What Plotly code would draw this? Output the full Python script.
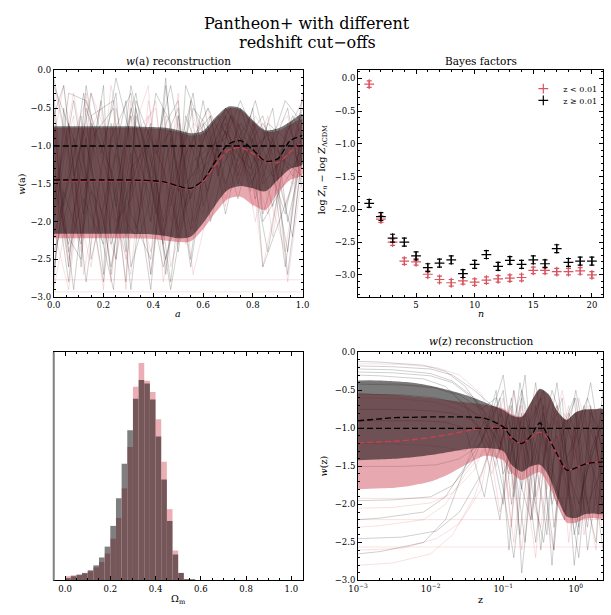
import plotly.graph_objects as go

FONT = "DejaVu Serif"

# ---------------- data ----------------
TITLE_LINE1 = "Pantheon+ with different"
TITLE_LINE2 = "redshift cut−offs"

W_LCDM = -1.0

# w(a) reconstruction: bands and means
A_GRID = [0.0, 0.05, 0.1, 0.15, 0.2, 0.25, 0.3, 0.35, 0.4, 0.45, 0.5,
          0.55, 0.6, 0.65, 0.7, 0.75, 0.8, 0.85, 0.9, 0.95, 1.0]
WA_BLACK_UP = [-0.74, -0.74, -0.74, -0.74, -0.74, -0.74, -0.74, -0.745, -0.75, -0.76, -0.79,
               -0.83, -0.80, -0.62, -0.48, -0.50, -0.66, -0.79, -0.77, -0.68, -0.58]
WA_RED_UP = [-0.76, -0.76, -0.76, -0.76, -0.76, -0.76, -0.76, -0.765, -0.77, -0.78, -0.81,
             -0.86, -0.83, -0.65, -0.50, -0.52, -0.68, -0.81, -0.80, -0.72, -0.65]
WA_BLACK_LO = [-2.16, -2.16, -2.16, -2.16, -2.16, -2.16, -2.16, -2.165, -2.17, -2.19, -2.22,
               -2.20, -2.02, -1.78, -1.58, -1.53, -1.56, -1.60, -1.45, -1.30, -1.24]
WA_RED_LO = [-2.22, -2.22, -2.22, -2.22, -2.22, -2.22, -2.22, -2.225, -2.23, -2.25, -2.27,
             -2.26, -2.10, -1.88, -1.70, -1.67, -1.78, -1.85, -1.62, -1.45, -1.38]
WA_BLACK_MEAN = [-1.45, -1.45, -1.45, -1.45, -1.45, -1.45, -1.45, -1.455, -1.46, -1.48, -1.53,
                 -1.56, -1.45, -1.20, -0.98, -0.93, -1.05, -1.20, -1.17, -0.93, -0.86]
WA_RED_MEAN = [-1.46, -1.46, -1.46, -1.46, -1.46, -1.46, -1.46, -1.465, -1.47, -1.49, -1.54,
               -1.57, -1.47, -1.25, -1.06, -1.02, -1.10, -1.20, -1.22, -1.08, -0.95]

# w(a) posterior samples (read approximately); three knot layouts
A_KNOTS = [
    [0.0, 0.06, 0.13, 0.19, 0.25, 0.31, 0.38, 0.44, 0.5, 0.56, 0.63, 0.69, 0.75, 0.81, 0.88, 0.94, 1.0],
    [0.0, 0.04, 0.11, 0.15, 0.24, 0.29, 0.33, 0.41, 0.47, 0.55, 0.6, 0.66, 0.71, 0.79, 0.86, 0.93, 1.0],
    [0.0, 0.08, 0.12, 0.2, 0.23, 0.31, 0.39, 0.45, 0.5, 0.53, 0.62, 0.69, 0.74, 0.8, 0.84, 0.96, 1.0],
]
WA_BLACK_SAMPLES = [
    [-0.3, -1.8, -0.6, -2.5, -1.2, -0.4, -2.1, -1.0, -0.2, -1.7, -0.9, -0.6, -1.0, -1.3, -0.8, -2.6, -0.9],
    [-2.6, -0.9, -1.9, -0.2, -2.3, -1.5, -0.7, -2.7, -1.4, -0.8, -1.6, -0.5, -0.7, -1.1, -1.5, -1.0, -0.5],
    [-1.4, -2.8, -0.5, -1.1, -0.3, -2.6, -1.8, -0.5, -2.4, -1.2, -1.0, -0.9, -0.4, -0.9, -1.8, -0.7, -1.2],
    [-0.6, -0.2, -2.2, -1.6, -2.9, -0.8, -0.3, -1.9, -0.9, -2.1, -0.7, -1.3, -1.1, -0.6, -1.2, -1.9, -0.8],
    [-2.2, -1.2, -0.3, -2.7, -0.7, -1.9, -2.5, -0.2, -1.6, -0.6, -1.4, -0.8, -1.5, -0.9, -0.7, -1.4, -0.3],
    [-1.0, -2.4, -1.5, -0.4, -1.8, -0.2, -1.3, -2.3, -0.6, -2.0, -0.9, -0.5, -0.8, -1.7, -1.0, -0.5, -1.6],
    [-2.9, -0.5, -2.6, -0.9, -0.5, -2.2, -0.6, -1.4, -2.8, -0.4, -1.8, -1.1, -0.6, -1.2, -2.4, -1.1, -0.7],
    [-0.1, -1.4, -0.8, -2.0, -2.6, -1.1, -2.9, -0.7, -0.4, -1.5, -1.1, -0.7, -1.3, -0.8, -0.6, -2.2, -1.0],
    [-1.7, -0.7, -2.8, -1.3, -0.1, -0.9, -1.6, -2.6, -1.9, -0.9, -0.6, -1.6, -0.5, -1.1, -1.4, -0.8, -0.4],
    [-2.4, -2.0, -1.0, -0.3, -1.5, -2.8, -0.4, -1.1, -0.8, -2.5, -1.3, -0.7, -0.9, -1.4, -0.9, -1.2, -1.4],
    [-0.8, -2.9, -1.7, -2.3, -0.9, -0.3, -2.0, -0.1, -2.2, -1.1, -0.5, -1.0, -1.2, -0.5, -1.9, -0.6, -0.9],
    [-1.9, -0.3, -0.4, -1.0, -2.0, -1.7, -0.9, -2.0, -1.1, -0.3, -2.0, -1.2, -0.7, -1.0, -0.8, -2.7, -1.1],
    [-0.5, -2.1, -2.5, -0.7, -1.4, -2.4, -0.5, -1.7, -2.9, -1.3, -0.4, -1.4, -0.6, -1.5, -1.1, -0.4, -0.7],
    [-2.0, -0.4, -1.2, -2.8, -1.9, -0.6, -2.7, -0.9, -0.5, -1.8, -1.2, -0.6, -1.4, -0.7, -2.0, -1.3, -1.0],
    [-1.2, -2.6, -0.2, -1.4, -2.5, -1.3, -1.0, -2.2, -1.3, -0.5, -0.8, -1.9, -1.0, -0.4, -1.3, -2.4, -0.6],
    [-2.7, -1.6, -2.3, -0.6, -0.4, -2.0, -2.2, -0.3, -0.7, -2.6, -1.5, -0.8, -0.5, -1.6, -0.7, -0.9, -1.3],
    [-0.2, -0.9, -1.4, -1.9, -2.7, -0.5, -1.5, -2.5, -1.7, -0.2, -1.0, -1.1, -1.7, -0.9, -2.6, -1.5, -0.8],
    [-1.5, -2.3, -0.9, -2.2, -1.1, -2.9, -0.8, -1.3, -2.1, -1.4, -0.6, -1.5, -0.9, -1.2, -0.5, -2.0, -1.1],
]
WA_RED_SAMPLES = [
    [-2.7, -1.0, -0.4, -1.9, -2.5, -0.6, -1.3, -2.2, -0.7, -1.4, -1.2, -0.8, -1.1, -1.6, -0.9, -2.8, -1.3],
    [-0.4, -2.2, -1.6, -0.3, -1.1, -2.9, -0.8, -0.5, -2.0, -0.9, -0.7, -1.4, -0.6, -1.2, -1.9, -0.8, -0.6],
    [-1.6, -0.6, -2.7, -1.2, -0.2, -1.4, -2.4, -1.7, -0.3, -2.3, -1.5, -0.6, -1.0, -1.8, -1.1, -1.5, -1.0],
    [-2.1, -2.9, -0.9, -0.5, -2.2, -0.9, -0.2, -2.8, -1.5, -0.7, -0.9, -1.1, -1.4, -0.7, -2.2, -0.9, -0.5],
    [-0.9, -0.2, -2.0, -2.6, -0.7, -2.0, -1.1, -0.4, -2.6, -1.6, -1.9, -0.9, -0.8, -1.3, -0.6, -1.8, -1.2],
    [-2.9, -1.5, -0.7, -1.4, -2.8, -0.4, -2.7, -1.2, -0.6, -1.1, -0.8, -1.7, -1.2, -0.9, -1.4, -1.1, -0.8],
    [-1.2, -2.5, -1.3, -2.1, -0.5, -1.6, -0.6, -2.1, -1.2, -2.1, -1.3, -0.7, -0.9, -2.0, -0.8, -0.6, -1.5],
    [-0.2, -0.8, -2.4, -0.8, -1.6, -2.5, -1.9, -0.9, -1.8, -0.5, -1.0, -1.3, -1.6, -1.0, -1.6, -2.4, -0.9],
    [-1.8, -0.3, -1.1, -2.9, -0.9, -1.2, -2.0, -0.6, -2.3, -1.2, -0.5, -1.8, -0.7, -1.4, -2.6, -0.7, -1.1],
    [-0.7, -2.6, -0.3, -1.7, -2.0, -2.7, -0.4, -1.5, -1.0, -2.7, -1.7, -1.0, -1.5, -0.6, -1.0, -1.3, -0.4],
    [-2.77] * 17,
    [-2.93] * 17,
]

# Bayes factors
N_VALUES = [1, 2, 3, 4, 5, 6, 7, 8, 9, 10, 11, 12, 13, 14, 15, 16, 17, 18, 19, 20]
BF_LOW = [-0.09, -2.15, -2.50, -2.79, -2.80, -2.99, -3.07, -3.12, -3.09, -3.11,
          -3.08, -3.06, -3.05, -3.04, -2.93, -2.93, -2.95, -2.95, -2.94, -3.00]
BF_LOW_ERR = [0.05, 0.05, 0.05, 0.05, 0.05, 0.05, 0.05, 0.05, 0.05, 0.05,
              0.05, 0.05, 0.05, 0.05, 0.05, 0.05, 0.05, 0.05, 0.05, 0.05]
BF_HIGH = [-1.91, -2.11, -2.44, -2.50, -2.71, -2.89, -2.82, -2.77, -2.98, -2.84,
           -2.69, -2.87, -2.78, -2.84, -2.77, -2.83, -2.60, -2.81, -2.79, -2.79]
BF_HIGH_ERR = [0.06, 0.06, 0.06, 0.06, 0.06, 0.06, 0.06, 0.06, 0.06, 0.06,
               0.06, 0.06, 0.06, 0.06, 0.06, 0.06, 0.06, 0.06, 0.06, 0.06]
LABEL_LOW = "z &lt; 0.01"
LABEL_HIGH = "z ≥ 0.01"

# Omega_m histogram (bin centres, width 0.025)
OM_BINS = [0.0125, 0.0375, 0.0625, 0.0875, 0.1125, 0.1375, 0.1625, 0.1875, 0.2125, 0.2375,
           0.2625, 0.2875, 0.3125, 0.3375, 0.3625, 0.3875, 0.4125, 0.4375, 0.4625, 0.4875,
           0.5125, 0.5375, 0.5625]
OM_BIN_WIDTH = 0.025
OM_RED = [13, 16, 16, 21, 28, 40, 56, 82, 127, 190, 280, 406, 589, 661, 607, 573, 490, 361,
          217, 91, 23, 4, 1]
OM_BLACK = [7, 13, 18, 23, 31, 46, 70, 103, 166, 250, 355, 457, 553, 610, 599, 550, 438, 307,
            181, 79, 23, 4, 1]

# w(z) reconstruction: bands and means
Z_GRID = [0.001, 0.0018, 0.0032, 0.0056, 0.01, 0.018, 0.032, 0.056, 0.1, 0.13,
          0.18, 0.24, 0.32, 0.42, 0.56, 0.75, 1.0, 1.33, 1.78, 2.37]
WZ_BLACK_UP = [-0.37, -0.37, -0.38, -0.40, -0.44, -0.50, -0.57, -0.66, -0.76, -0.83,
               -0.85, -0.66, -0.48, -0.55, -0.78, -0.89, -0.79, -0.75, -0.75, -0.75]
WZ_RED_UP = [-0.54, -0.55, -0.56, -0.58, -0.60, -0.63, -0.66, -0.69, -0.74, -0.81,
             -0.84, -0.66, -0.49, -0.56, -0.78, -0.89, -0.79, -0.76, -0.75, -0.75]
WZ_BLACK_LO = [-1.42, -1.41, -1.40, -1.38, -1.35, -1.31, -1.27, -1.26, -1.30, -1.48,
               -1.57, -1.50, -1.48, -1.62, -1.92, -2.16, -2.18, -2.13, -2.12, -2.12]
WZ_RED_LO = [-1.80, -1.79, -1.78, -1.75, -1.70, -1.60, -1.47, -1.36, -1.42, -1.58,
             -1.68, -1.62, -1.58, -1.74, -2.00, -2.24, -2.24, -2.19, -2.18, -2.18]
WZ_BLACK_MEAN = [-0.90, -0.88, -0.86, -0.855, -0.85, -0.85, -0.85, -0.87, -0.98, -1.12,
                 -1.20, -1.10, -0.93, -1.12, -1.35, -1.55, -1.52, -1.47, -1.45, -1.44]
WZ_RED_MEAN = [-1.19, -1.18, -1.17, -1.15, -1.12, -1.08, -1.03, -1.00, -1.00, -1.13,
               -1.20, -1.12, -1.05, -1.14, -1.35, -1.55, -1.52, -1.47, -1.45, -1.44]

# w(z) posterior samples (read approximately); three knot layouts
Z_KNOTS = [
    [0.001, 0.003, 0.01, 0.02, 0.04, 0.07, 0.1, 0.14, 0.2, 0.28, 0.4, 0.55, 0.8, 1.1, 1.6, 2.37],
    [0.001, 0.004, 0.012, 0.025, 0.05, 0.08, 0.12, 0.17, 0.24, 0.33, 0.47, 0.65, 0.95, 1.3, 1.9, 2.37],
    [0.001, 0.002, 0.008, 0.016, 0.03, 0.055, 0.09, 0.13, 0.18, 0.25, 0.36, 0.5, 0.7, 1.0, 1.45, 2.37],
]
WZ_BLACK_SAMPLES = [
    [-0.12, -0.13, -0.17, -0.25, -0.45, -0.8, -1.3, -0.6, -1.8, -0.9, -0.5, -1.7, -2.1, -0.8, -2.6, -1.2],
    [-0.22, -0.23, -0.28, -0.38, -0.6, -0.9, -0.5, -1.9, -0.8, -1.4, -2.4, -0.9, -1.5, -2.3, -0.7, -1.8],
    [-2.45, -2.43, -2.35, -2.1, -1.6, -1.0, -1.6, -0.4, -1.2, -2.6, -1.0, -0.6, -2.8, -1.6, -1.1, -2.2],
    [-0.3, -0.31, -0.35, -0.45, -0.7, -1.2, -2.2, -1.0, -0.5, -1.1, -1.6, -2.6, -0.9, -1.3, -2.3, -0.5],
    [-1.95, -1.94, -1.9, -1.75, -1.4, -0.8, -0.3, -1.4, -2.5, -0.7, -1.3, -1.1, -1.9, -2.7, -1.0, -1.6],
    [-0.55, -0.56, -0.6, -0.68, -0.85, -1.4, -0.9, -2.4, -1.1, -0.6, -2.0, -1.5, -1.2, -0.7, -1.9, -2.6],
    [-2.65, -2.62, -2.5, -2.2, -1.5, -0.9, -1.2, -0.7, -2.9, -1.6, -0.8, -1.9, -2.2, -1.0, -0.6, -1.3],
    [-0.18, -0.19, -0.22, -0.3, -0.5, -0.7, -1.6, -1.2, -0.3, -1.9, -1.2, -0.4, -1.6, -2.0, -1.4, -0.9],
    [-1.5, -1.5, -1.48, -1.4, -1.2, -0.5, -2.6, -0.9, -1.5, -0.9, -2.8, -1.0, -0.6, -1.8, -2.5, -1.1],
    [-0.9, -0.9, -0.9, -0.92, -1.0, -1.9, -0.8, -1.6, -0.6, -2.2, -0.7, -2.3, -1.3, -0.5, -1.3, -2.0],
    [-0.26, -0.27, -0.31, -0.4, -0.62, -1.1, -1.8, -2.7, -1.3, -0.4, -1.5, -2.0, -0.8, -1.2, -0.4, -1.4],
    [-0.42, -0.43, -0.47, -0.56, -0.75, -0.6, -1.1, -1.7, -2.2, -1.2, -0.5, -0.9, -2.4, -1.7, -1.2, -0.7],
    [-2.2, -2.18, -2.1, -1.9, -1.5, -1.1, -0.6, -2.0, -0.8, -1.8, -2.5, -1.4, -1.0, -0.6, -2.0, -1.5],
    [-0.75, -0.75, -0.77, -0.8, -0.9, -1.3, -2.0, -0.5, -1.4, -2.5, -1.1, -0.7, -1.8, -2.4, -0.8, -1.1],
]
WZ_RED_SAMPLES = [
    [-2.8, -2.77, -2.65, -2.4, -1.9, -1.2, -0.6, -1.8, -1.0, -2.0, -1.2, -0.7, -2.5, -1.4, -0.9, -1.7],
    [-0.15, -0.16, -0.2, -0.3, -0.55, -1.0, -1.5, -0.7, -2.2, -1.0, -0.6, -1.6, -1.1, -2.4, -1.5, -0.8],
    [-2.3, -2.28, -2.2, -2.0, -1.6, -1.3, -0.9, -2.3, -0.7, -1.3, -2.0, -2.6, -0.8, -1.2, -2.1, -1.9],
    [-0.4, -0.41, -0.45, -0.55, -0.8, -1.6, -1.1, -0.5, -1.7, -2.7, -0.9, -1.3, -1.9, -0.6, -1.2, -2.4],
    [-2.6, -2.58, -2.45, -2.25, -1.8, -0.7, -1.9, -1.2, -0.9, -0.6, -1.5, -2.0, -1.0, -1.7, -2.6, -1.1],
    [-1.2, -1.2, -1.22, -1.25, -1.3, -0.8, -2.1, -1.5, -2.6, -1.4, -0.7, -0.9, -2.2, -1.1, -0.7, -1.5],
    [-2.05, -2.04, -1.98, -1.85, -1.55, -1.0, -1.4, -2.5, -1.1, -0.7, -1.8, -1.2, -0.7, -2.0, -1.3, -0.9],
    [-0.6, -0.61, -0.66, -0.76, -1.0, -1.5, -0.7, -1.1, -1.9, -2.3, -1.0, -0.5, -1.4, -0.9, -2.2, -1.6],
    [-1.92] * 16,
    [-2.2] * 16,
    [-2.56] * 16,
]

# ---------------- styles ----------------
RED = "rgb(205,62,78)"
RED_FILL = "rgba(205,62,78,0.45)"
BLACK_FILL = "rgba(0,0,0,0.52)"
RED_SAMPLE = "rgba(215,70,85,0.17)"
BLACK_SAMPLE = "rgba(0,0,0,0.19)"
BF_RED = "#d9545f"
DASH = "6px,3px"

W, H = 611, 615


def px_x(p):
    return p / W


def px_y(p):
    return 1 - p / H


fig = go.Figure()


def band(x, up, lo, color, xa, ya):
    fig.add_trace(go.Scatter(
        x=list(x) + list(x)[::-1], y=list(up) + list(lo)[::-1],
        fill="toself", fillcolor=color, line=dict(width=0, shape="spline", smoothing=0.8),
        mode="lines", hoverinfo="skip", showlegend=False, xaxis=xa, yaxis=ya))


def line(x, y, color, width, xa, ya, dash=None, shape="linear"):
    fig.add_trace(go.Scatter(
        x=x, y=y, mode="lines",
        line=dict(color=color, width=width, dash=dash, shape=shape, smoothing=0.8),
        hoverinfo="skip", showlegend=False, xaxis=xa, yaxis=ya))


# ---- panel 1: w(a) ----
for i, s in enumerate(WA_RED_SAMPLES):
    line(A_KNOTS[i % 3], s, RED_SAMPLE, 1, "x", "y")
for i, s in enumerate(WA_BLACK_SAMPLES):
    line(A_KNOTS[(i + 1) % 3], s, BLACK_SAMPLE, 1, "x", "y")
band(A_GRID, WA_RED_UP, WA_RED_LO, RED_FILL, "x", "y")
band(A_GRID, WA_BLACK_UP, WA_BLACK_LO, BLACK_FILL, "x", "y")
line(A_GRID, WA_RED_MEAN, RED, 1.3, "x", "y", dash=DASH, shape="spline")
line(A_GRID, WA_BLACK_MEAN, "black", 1.3, "x", "y", dash=DASH, shape="spline")

# ---- panel 2: Bayes factors ----
fig.add_trace(go.Scatter(
    x=N_VALUES, y=BF_LOW, mode="markers", name=LABEL_LOW, legend="legend",
    marker=dict(symbol="cross-thin", size=7, line=dict(color=BF_RED, width=1.2), color=BF_RED),
    error_y=dict(type="data", array=BF_LOW_ERR, color=BF_RED, thickness=1.2, width=2.5),
    xaxis="x2", yaxis="y2"))
fig.add_trace(go.Scatter(
    x=N_VALUES, y=BF_HIGH, mode="markers", name=LABEL_HIGH, legend="legend2",
    marker=dict(symbol="cross-thin", size=7, line=dict(color="black", width=1.2), color="black"),
    error_y=dict(type="data", array=BF_HIGH_ERR, color="black", thickness=1.2, width=2.5),
    xaxis="x2", yaxis="y2"))

# ---- panel 3: Omega_m histogram ----
fig.add_trace(go.Bar(x=OM_BINS, y=OM_RED, width=OM_BIN_WIDTH, marker=dict(color=RED, line=dict(width=0)),
                     opacity=0.42, showlegend=False, hoverinfo="skip", xaxis="x3", yaxis="y3"))
fig.add_trace(go.Bar(x=OM_BINS, y=OM_BLACK, width=OM_BIN_WIDTH, marker=dict(color="black", line=dict(width=0)),
                     opacity=0.5, showlegend=False, hoverinfo="skip", xaxis="x3", yaxis="y3"))

# ---- panel 4: w(z) ----
for i, s in enumerate(WZ_RED_SAMPLES):
    line(Z_KNOTS[i % 3], s, RED_SAMPLE, 1, "x4", "y4")
for i, s in enumerate(WZ_BLACK_SAMPLES):
    line(Z_KNOTS[(i + 2) % 3], s, BLACK_SAMPLE, 1, "x4", "y4")
band(Z_GRID, WZ_RED_UP, WZ_RED_LO, RED_FILL, "x4", "y4")
band(Z_GRID, WZ_BLACK_UP, WZ_BLACK_LO, BLACK_FILL, "x4", "y4")
line(Z_GRID, WZ_RED_MEAN, RED, 1.3, "x4", "y4", dash=DASH, shape="spline")
line(Z_GRID, WZ_BLACK_MEAN, "black", 1.3, "x4", "y4", dash=DASH, shape="spline")

# reference lines w = -1
fig.add_shape(type="line", xref="x domain", yref="y", x0=0, x1=1, y0=W_LCDM, y1=W_LCDM,
              line=dict(color="black", width=1.4, dash=DASH))
fig.add_shape(type="line", xref="x4 domain", yref="y4", x0=0, x1=1, y0=W_LCDM, y1=W_LCDM,
              line=dict(color="black", width=1.4, dash=DASH))
# grey left spine of histogram
fig.add_shape(type="line", xref="x3 domain", yref="y3 domain", x0=0, x1=0, y0=0, y1=1,
              line=dict(color="#808080", width=2))

TICKFONT = dict(family=FONT, size=8.5, color="black")
LABELFONT = dict(family=FONT, size=9.5, color="black")


def axis(domain, **kw):
    d = dict(domain=domain, showline=True, linecolor="black", linewidth=1, mirror="allticks",
             ticks="inside", ticklen=4, tickwidth=0.8, tickcolor="black", showgrid=False,
             zeroline=False, tickfont=TICKFONT, layer="above traces")
    d.update(kw)
    return d


def minor(dt):
    return dict(ticks="inside", ticklen=2, tickwidth=0.8, tickcolor="black", dtick=dt, showgrid=False)


XL = [px_x(45), px_x(301)]
XR = [px_x(358), px_x(610)]
YT = [px_y(297), px_y(66.5)]
YB = [px_y(585), px_y(353)]

LOG_MINOR = [m * 10.0 ** e for e in range(-3, 1) for m in range(2, 10)]
LEG = dict(xanchor="left", yanchor="middle", bgcolor="rgba(0,0,0,0)",
           font=dict(family=FONT, size=8, color="black"), itemwidth=30, tracegroupgap=0)

fig.update_layout(
    width=W, height=H, margin=dict(l=0, r=0, t=0, b=0),
    paper_bgcolor="white", plot_bgcolor="white", barmode="overlay",
    font=dict(family=FONT, color="black"),
    xaxis=axis(XL, anchor="y", range=[0, 1], dtick=0.2, tick0=0, tickformat=".1f", minor=minor(0.05)),
    yaxis=axis(YT, anchor="x", range=[-3, 0], dtick=0.5, tick0=0, tickformat=".1f", minor=minor(0.1)),
    xaxis2=axis(XR, anchor="y2", range=[0.05, 20.95], dtick=5, tick0=0, minor=minor(1)),
    yaxis2=axis(YT, anchor="x2", range=[-3.34, 0.12], dtick=0.5, tick0=0, tickformat=".1f", minor=minor(0.1)),
    xaxis3=axis(XL, anchor="y3", range=[-0.05, 1.05], dtick=0.2, tick0=0, tickformat=".1f", minor=minor(0.05)),
    yaxis3=axis(YB, anchor="x3", range=[0, 694], ticks="", showticklabels=False),
    xaxis4=axis(XR, anchor="y4", type="log", range=[-3, 0.375],
                tickvals=[0.001, 0.01, 0.1, 1],
                ticktext=["10<sup>−3</sup>", "10<sup>−2</sup>", "10<sup>−1</sup>", "10<sup>0</sup>"],
                minor=dict(ticks="inside", ticklen=2, tickwidth=0.8, tickcolor="black",
                           tickvals=LOG_MINOR, showgrid=False)),
    yaxis4=axis(YB, anchor="x4", range=[-3, 0], dtick=0.5, tick0=0, tickformat=".1f", minor=minor(0.1)),
    legend=dict(x=px_x(528), y=px_y(85), **LEG),
    legend2=dict(x=px_x(528), y=px_y(97), **LEG),
)

TITLE_FONT = dict(family=FONT, size=16, color="black")
SUB_FONT = dict(family=FONT, size=10.5, color="black")
ann = [
    dict(text=TITLE_LINE1, x=0.5, y=px_y(19), font=TITLE_FONT),
    dict(text=TITLE_LINE2, x=0.5, y=px_y(38), font=TITLE_FONT),
    dict(text="<i>w</i>(a) reconstruction", x=px_x(173), y=px_y(57), font=SUB_FONT),
    dict(text="Bayes factors", x=px_x(484), y=px_y(57), font=SUB_FONT),
    dict(text="<i>w</i>(z) reconstruction", x=px_x(484), y=px_y(342), font=SUB_FONT),
    # axis labels
    dict(text="<i>a</i>", x=px_x(173), y=px_y(314), font=LABELFONT),
    dict(text="<i>n</i>", x=px_x(484), y=px_y(314), font=LABELFONT),
    dict(text="Ω<sub>m</sub>", x=px_x(173), y=px_y(604), font=LABELFONT),
    dict(text="z", x=px_x(484), y=px_y(604), font=LABELFONT),
    dict(text="<i>w</i>(a)", x=px_x(11), y=px_y(182), font=LABELFONT, textangle=-90),
    dict(text="log <i>Z</i><sub><i>n</i></sub> − log <i>Z</i><sub>ΛCDM</sub>", x=px_x(321), y=px_y(168),
         font=LABELFONT, textangle=-90),
    dict(text="<i>w</i>(z)", x=px_x(322), y=px_y(469), font=LABELFONT, textangle=-90),
]
for a in ann:
    a.update(xref="paper", yref="paper", showarrow=False, xanchor="center", yanchor="middle")
fig.update_layout(annotations=ann)

fig.write_html("out.html")
